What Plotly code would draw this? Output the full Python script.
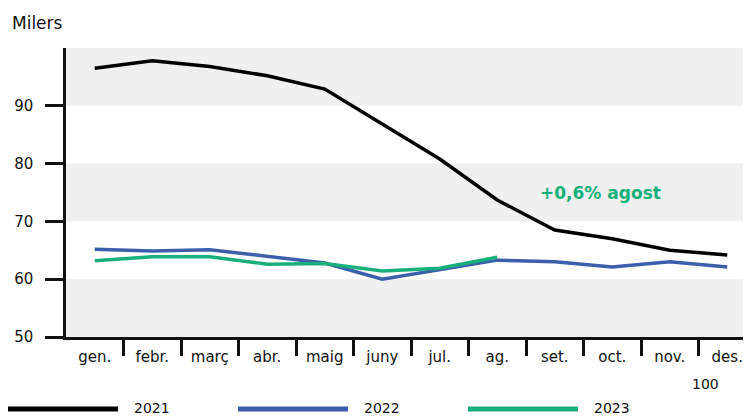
import plotly.graph_objects as go

months = ["gen.", "febr.", "març", "abr.", "maig", "juny", "jul.", "ag.", "set.", "oct.", "nov.", "des."]
series_names = ["2021", "2022", "2023"]
values_2021 = [96.5, 97.8, 96.8, 95.2, 92.9, 86.8, 80.8, 73.7, 68.5, 67.0, 65.0, 64.2]
values_2022 = [65.2, 64.9, 65.1, 64.0, 62.8, 60.0, 61.6, 63.3, 63.0, 62.1, 63.0, 62.1]
values_2023 = [63.2, 63.9, 63.9, 62.6, 62.7, 61.4, 61.9, 63.8]
colors = ["#000000", "#3a5fad", "#17b07a"]
y_ticks = [50, 60, 70, 80, 90]
bands = [(50, 60), (70, 80), (90, 100)]
annotation_text = "+0,6% agost"
annotation_month = "set."
annotation_value = 74.9
unit_label = "Milers"
base_label = "100"

FONT = "DejaVu Sans, Arial, sans-serif"
OFF = 8                      # page body margin
W, H = 751, 417              # page size
PL, PT, PB = 66, 48, 337     # plot left/top/bottom on the page
plot_w = W - PL
plot_h = PB - PT
cat_w = 57.5
x_idx = list(range(len(months)))
x_range = [-0.5, -0.5 + plot_w / cat_w]


def px_x(px):
    return (px - PL) / plot_w


def px_y(py):
    return (PB - py) / plot_h


fig = go.Figure()
all_vals = [values_2021, values_2022, values_2023]
for name, vals, col in zip(series_names, all_vals, colors):
    fig.add_trace(go.Scatter(
        x=x_idx[:len(vals)], y=vals, mode="lines", name=name,
        line=dict(color=col, width=3.5), showlegend=False,
        hovertemplate="%{y}<extra>" + name + "</extra>",
    ))

# invisible trace to activate the boundary-tick axis
fig.add_trace(go.Scatter(x=[x_idx[0]], y=[y_ticks[0]], xaxis="x2", mode="markers",
                         marker=dict(opacity=0), showlegend=False, hoverinfo="skip"))

shapes = []
for lo, hi in bands:
    shapes.append(dict(type="rect", xref="paper", yref="y", x0=0, x1=1, y0=lo, y1=hi,
                       fillcolor="#f0f0f0", line=dict(width=0), layer="below"))

# custom legend (long line samples)
leg_line_x = [(8, 118), (238, 348), (468, 578)]
leg_y = 409
annotations = []
for (x0, x1), name, col in zip(leg_line_x, series_names, colors):
    shapes.append(dict(type="line", xref="paper", yref="paper",
                       x0=px_x(x0), x1=px_x(x1), y0=px_y(leg_y), y1=px_y(leg_y),
                       line=dict(color=col, width=5)))
    annotations.append(dict(text=name, xref="paper", yref="paper",
                            x=px_x(x1 + 14), y=px_y(leg_y - 1),
                            xanchor="left", yanchor="middle", showarrow=False,
                            font=dict(family=FONT, size=14, color="#111")))

annotations.append(dict(text="<b>" + annotation_text + "</b>", xref="x", yref="y",
                        x=months.index(annotation_month), y=annotation_value,
                        xanchor="center", yanchor="middle", showarrow=False,
                        xshift=46, font=dict(family=FONT, size=17, color=colors[2])))
annotations.append(dict(text=base_label, xref="paper", yref="paper",
                        x=px_x(705), y=px_y(384),
                        xanchor="center", yanchor="middle", showarrow=False,
                        font=dict(family=FONT, size=14, color="#111")))

fig.update_layout(
    width=W - OFF, height=H - OFF,
    margin=dict(l=PL - OFF, r=0, t=PT - OFF, b=H - PB, autoexpand=False),
    paper_bgcolor="white", plot_bgcolor="white",
    font=dict(family=FONT, size=15, color="#111"),
    title=dict(text=unit_label, xref="container", yref="container",
               x=(12 - OFF) / (W - OFF), y=1 - (23 - OFF) / (H - OFF),
               xanchor="left", yanchor="middle",
               font=dict(family=FONT, size=17, color="#111")),
    xaxis=dict(range=x_range, tickmode="array", tickvals=x_idx, ticktext=months,
               showgrid=False, zeroline=False, showline=True, linecolor="#111", linewidth=2.5,
               ticks="outside", ticklen=4, tickcolor="rgba(0,0,0,0)",
               tickfont=dict(family=FONT, size=15, color="#111")),
    xaxis2=dict(range=x_range, overlaying="x", side="bottom", anchor="y",
                tickmode="array", tickvals=[i + 0.5 for i in x_idx[:-1]],
                showticklabels=False, showgrid=False, zeroline=False, showline=False,
                ticks="outside", ticklen=18, tickwidth=2.5, tickcolor="#111"),
    yaxis=dict(range=[50, 100], tickmode="array", tickvals=y_ticks,
               showgrid=False, zeroline=False, showline=True, linecolor="#111", linewidth=2.5,
               ticks="outside", ticklen=18, tickwidth=2.5, tickcolor="#111",
               ticklabelstandoff=9,
               tickfont=dict(family=FONT, size=15, color="#111")),
    shapes=shapes, annotations=annotations,
    showlegend=False,
)

fig.write_html("out.html")
